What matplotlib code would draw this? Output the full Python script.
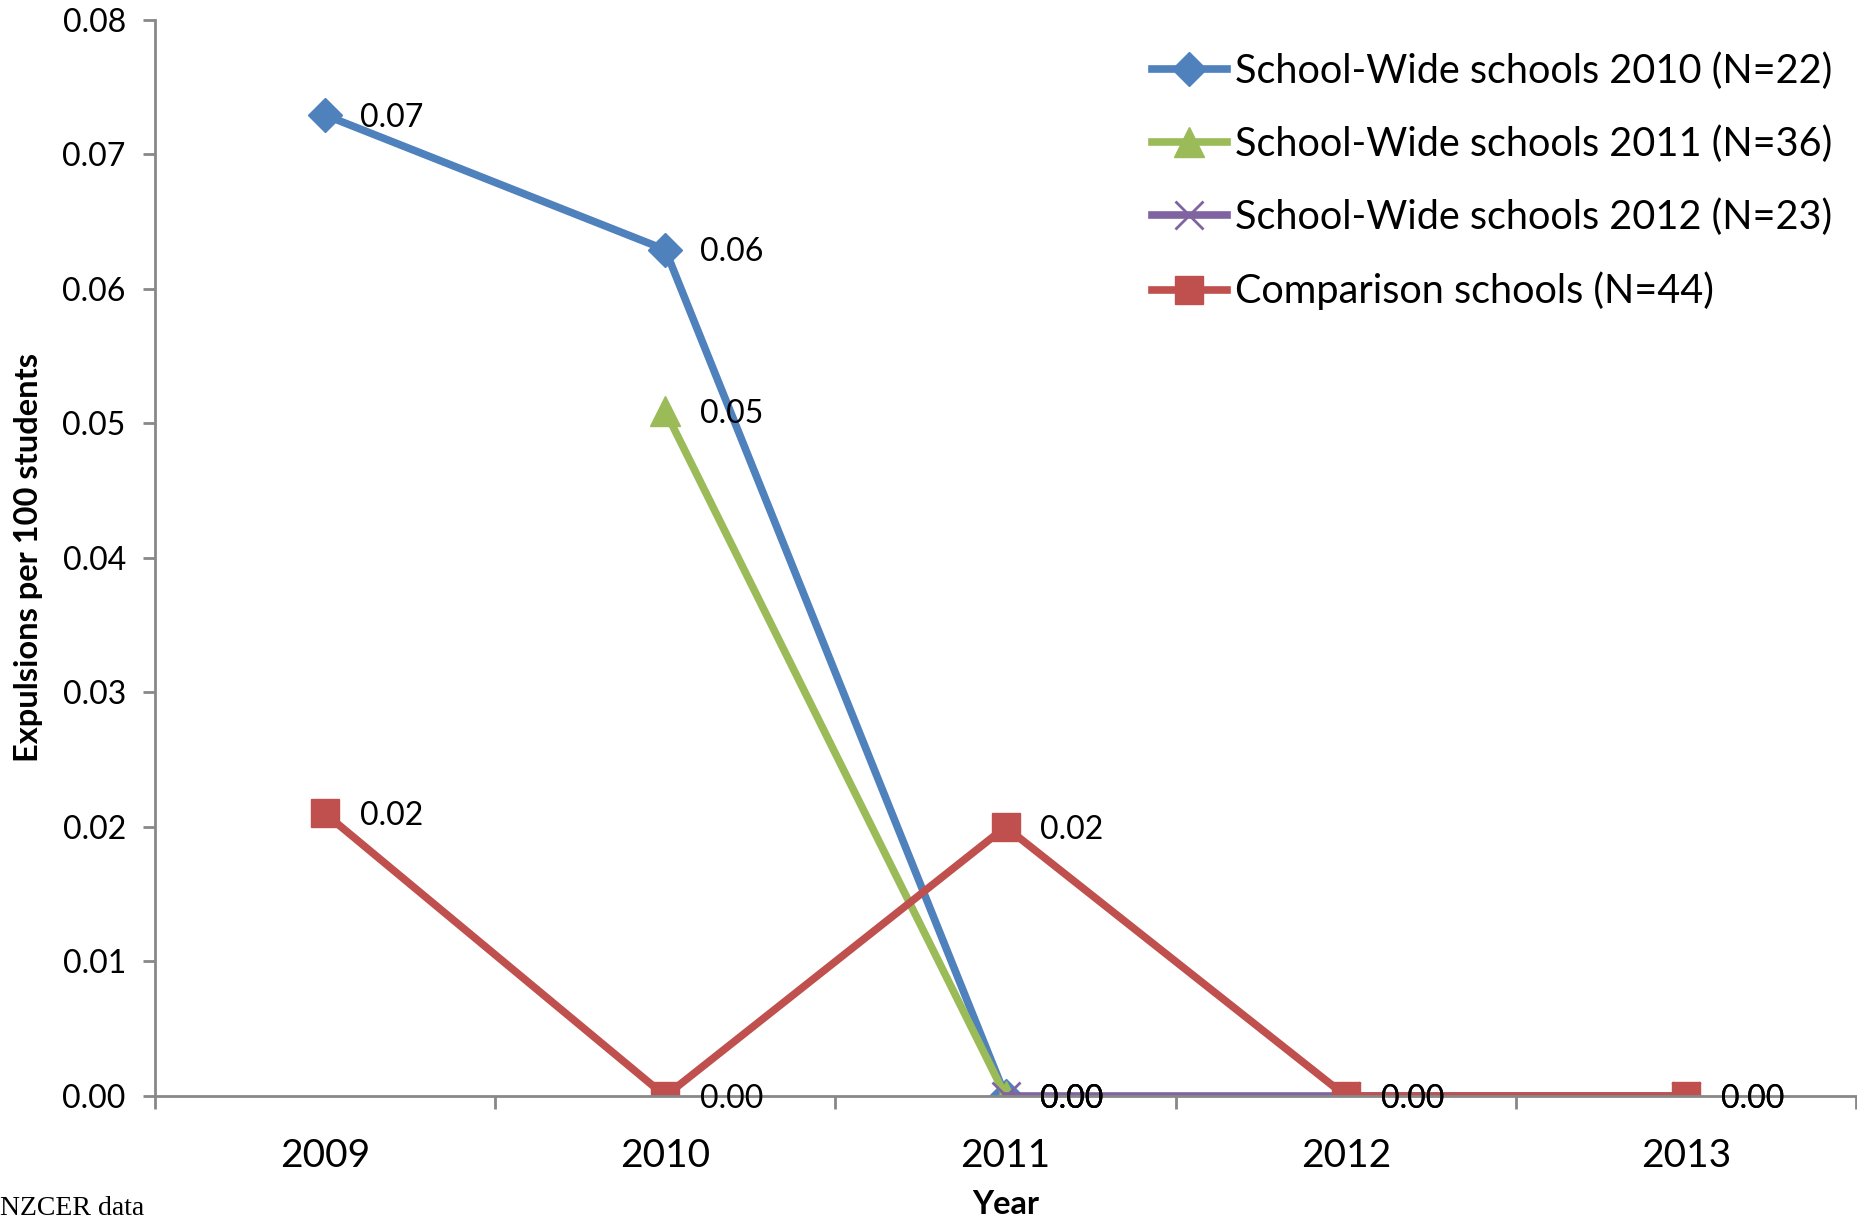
#!/usr/bin/env python3
"""Expulsions per 100 students: School-Wide cohorts vs comparison schools"""

import numpy as np
import matplotlib.pyplot as plt

years = ['2009', '2010', '2011', '2012', '2013']

# values per series (None = no data for that year)
sw2010 = [0.0729, 0.0629, 0.0, None, None]
sw2011 = [None, 0.0509, 0.0, None, None]
sw2012 = [None, None, 0.0, 0.0, 0.0]
comparison = [0.0210, 0.0, 0.0200, 0.0, 0.0]

series_names = ['School-Wide schools 2010 (N=22)',
                'School-Wide schools 2011 (N=36)',
                'School-Wide schools 2012 (N=23)',
                'Comparison schools (N=44)']

plt.rcParams['font.family'] = ['Lato', 'DejaVu Sans']

fig = plt.figure(figsize=(18.58, 12.26), dpi=100)
ax = fig.add_axes([0.0834, 0.106, 0.9156, 0.878])

x = np.arange(len(years))

styles = [
    (sw2010, '#4F81BD', 'D', 17, dict()),
    (sw2011, '#9BBB59', '^', 21, dict()),
    (sw2012, '#8064A2', 'x', 20, dict(markeredgewidth=2)),
    (comparison, '#C0504D', 's', 20, dict()),
]

for (vals, color, marker, ms, extra), name in zip(styles, series_names):
    xs = [xi for xi, v in zip(x, vals) if v is not None]
    ys = [v for v in vals if v is not None]
    ax.plot(xs, ys, color=color, linewidth=5.5, marker=marker, markersize=ms,
            markeredgecolor=color, markerfacecolor=color, label=name, **extra)
    for xi, yi in zip(xs, ys):
        ax.annotate(f'{yi:.2f}', (xi, yi), xytext=(25, -2), textcoords='offset points',
                    ha='left', va='center', fontsize=23, color='black')

ax.set_xlim(-0.5, 4.5)
ax.set_ylim(0, 0.08)
ax.set_yticks(np.arange(0, 0.081, 0.01))
ax.set_yticklabels([f'{v:.2f}' for v in np.arange(0, 0.081, 0.01)], fontsize=23)

ax.set_xticks(x)
ax.set_xticklabels(years, fontsize=28)
ax.set_xticks(np.arange(-0.5, 4.6, 1), minor=True)
ax.tick_params(axis='x', which='major', length=0, pad=30)
ax.tick_params(axis='x', which='minor', length=9, width=2, color='#888888', direction='out')
ax.tick_params(axis='y', length=9, width=2, color='#888888', direction='out', pad=12)

for side in ['top', 'right']:
    ax.spines[side].set_visible(False)
for side in ['left', 'bottom']:
    ax.spines[side].set_color('#888888')
    ax.spines[side].set_linewidth(2)

ax.set_ylabel('Expulsions per 100 students', fontsize=23.5, fontweight='bold', labelpad=14)
ax.set_xlabel('Year', fontsize=23.5, fontweight='bold', labelpad=12)

leg = ax.legend(loc='upper left', bbox_to_anchor=(0.586, 0.97), frameon=False,
                fontsize=28.5, handlelength=1.9, handletextpad=0.2, labelspacing=0.9,
                borderaxespad=0, borderpad=0)

fig.text(0.0, 0.004, 'NZCER data', fontsize=20, family='Liberation Serif',
         ha='left', va='bottom')

plt.savefig('out.png', dpi=100)
plt.close()
